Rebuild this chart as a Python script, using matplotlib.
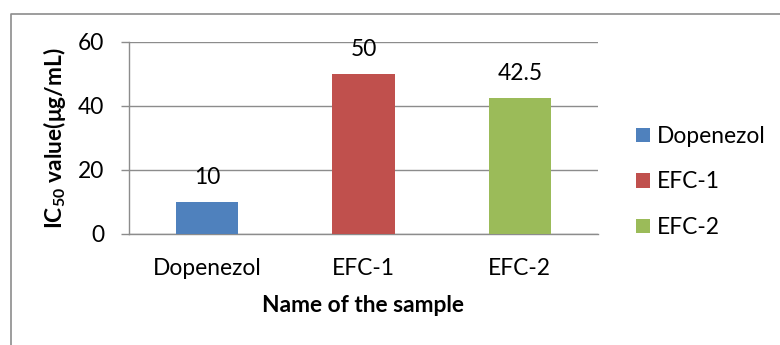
import matplotlib
matplotlib.use("Agg")
import matplotlib.pyplot as plt
from matplotlib.lines import Line2D

# ==========================================
# Data
# ==========================================
samples = ["Dopenezol", "EFC-1", "EFC-2"]
ic50_values = [10, 50, 42.5]
value_labels = ["10", "50", "42.5"]
bar_colors = ["#4F81BD", "#C0504D", "#9BBB59"]
y_ticks = [0, 20, 40, 60]

plt.rcParams['font.family'] = ['Lato', 'DejaVu Sans']
plt.rcParams['mathtext.fontset'] = 'custom'
plt.rcParams['mathtext.rm'] = 'Lato'
plt.rcParams['mathtext.bf'] = 'Lato:bold'
plt.rcParams['mathtext.default'] = 'bf'
FS = 16.4
GRAY = "#8c8c8c"

fig = plt.figure(figsize=(7.8, 3.45), dpi=100)
ax = fig.add_axes([129 / 780, 1 - 234 / 345, (598 - 129) / 780, (234 - 42) / 345])

x = list(range(len(samples)))
bars = ax.bar(x, ic50_values, width=0.4, color=bar_colors, label=samples, zorder=3)
ax.bar_label(bars, labels=value_labels, padding=10, fontsize=FS)

ax.set_xlim(-0.5, len(samples) - 0.5)
ax.set_ylim(0, 60)
ax.set_yticks(y_ticks)
ax.set_xticks(x)
ax.set_xticklabels(samples, fontsize=FS)
ax.tick_params(axis='x', length=0, pad=17)
ax.tick_params(axis='y', length=6, width=1, color=GRAY, pad=12, labelsize=FS)

# gridlines and spines
ax.yaxis.grid(True, color=GRAY, linewidth=1, zorder=0)
for side in ["top", "right"]:
    ax.spines[side].set_visible(False)
for side in ["left", "bottom"]:
    ax.spines[side].set_color(GRAY)
    ax.spines[side].set_linewidth(1)

ax.set_ylabel(r"IC$_{50}$ value(μg/mL)", fontsize=FS, fontweight='bold')
ax.yaxis.set_label_coords(-0.13, 0.5)
ax.set_xlabel("Name of the sample", fontsize=FS, fontweight='bold', labelpad=12)

# legend on the right
fig.legend(handles=bars.patches, labels=samples, loc='center left',
           bbox_to_anchor=(636 / 780, 1 - 182 / 345), frameon=False,
           fontsize=FS, handlelength=0.62, handleheight=0.62,
           handletextpad=0.3, labelspacing=1.08, borderpad=0, borderaxespad=0)

# outer chart border (cut off at right and bottom)
fig.add_artist(Line2D([11 / 780, 11 / 780, 1.0], [0.0, 1 - 13.5 / 345, 1 - 13.5 / 345],
                      transform=fig.transFigure, color=GRAY, linewidth=1.2))

fig.savefig("out.png", dpi=100)
